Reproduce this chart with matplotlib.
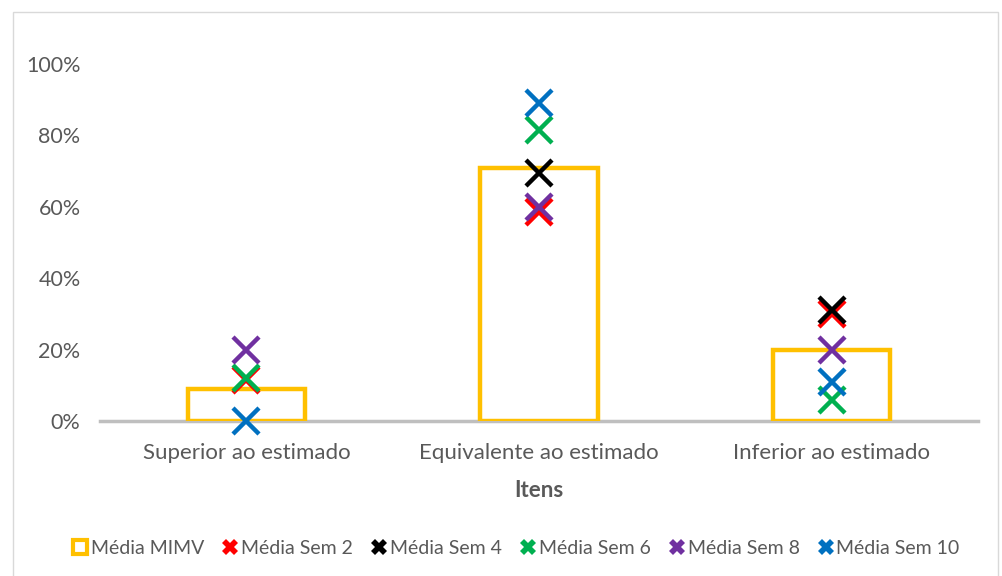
import matplotlib.pyplot as plt
from matplotlib.lines import Line2D
from matplotlib.patches import Rectangle
from matplotlib.ticker import PercentFormatter

plt.rcParams['font.family'] = ['Lato', 'DejaVu Sans']

# data
categories = ["Superior ao estimado", "Equivalente ao estimado", "Inferior ao estimado"]
media_mimv = [0.09, 0.71, 0.20]
sem2 = [0.115, 0.585, 0.30]
sem4 = [None, 0.695, 0.31]
sem6 = [0.12, 0.815, 0.06]
sem8 = [0.20, 0.60, 0.20]
sem10 = [0.00, 0.89, 0.11]

series = [
    ("Média Sem 2", sem2, "#FF0000"),
    ("Média Sem 4", sem4, "#000000"),
    ("Média Sem 6", sem6, "#00B050"),
    ("Média Sem 8", sem8, "#7030A0"),
    ("Média Sem 10", sem10, "#0070C0"),
]

fig = plt.figure(figsize=(10.03, 5.76), dpi=100)
# outer chart border
fig.patches.append(Rectangle((13 / 1003, -0.05), 985 / 1003, 1.05 - 12 / 576,
                             transform=fig.transFigure, fill=False,
                             edgecolor="#D9D9D9", linewidth=1))

ax = fig.add_axes([100 / 1003, 1 - 421 / 576, 878 / 1003, 357 / 576])
x = list(range(len(categories)))

ax.bar(x, media_mimv, width=0.4, facecolor="white", edgecolor="#FFC000",
       linewidth=3.2, zorder=2)

for name, vals, col in series:
    xs = [xi for xi, v in zip(x, vals) if v is not None]
    ys = [v for v in vals if v is not None]
    ax.plot(xs, ys, linestyle="none", marker="x", markersize=19,
            markeredgewidth=3.2, color=col, zorder=3, clip_on=False)

ax.set_xlim(-0.5, 2.5)
ax.set_ylim(0, 1.0)
ax.yaxis.set_major_formatter(PercentFormatter(1.0, decimals=0))
ax.set_yticks([0, 0.2, 0.4, 0.6, 0.8, 1.0])
ax.set_xticks(x)
ax.set_xticklabels(categories)
ax.tick_params(axis="x", length=0, labelsize=16, labelcolor="#595959", pad=16)
ax.tick_params(axis="y", length=0, labelsize=15.5, labelcolor="#595959", pad=14)
for s in ["top", "right", "left"]:
    ax.spines[s].set_visible(False)
ax.spines["bottom"].set_color("#BFBFBF")
ax.spines["bottom"].set_linewidth(2.5)
ax.spines["bottom"].set_zorder(1)
ax.set_xlabel("Itens", fontsize=16, fontweight="bold", color="#595959", labelpad=12)

handles = [Line2D([], [], linestyle="none", marker="s", markersize=10,
                  markerfacecolor="white", markeredgecolor="#FFC000",
                  markeredgewidth=3)]
for name, vals, col in series:
    handles.append(Line2D([], [], linestyle="none", marker="X", markersize=11,
                          color=col, markeredgewidth=0))
labels = ["Média MIMV"] + [s[0] for s in series]
fig.legend(handles, labels, loc="center", bbox_to_anchor=(517 / 1003, 1 - 548 / 576),
           ncol=6, frameon=False, fontsize=14, handlelength=0.6,
           handletextpad=0.25, columnspacing=1.05, labelcolor="#595959")

fig.savefig("out.png", dpi=100)
